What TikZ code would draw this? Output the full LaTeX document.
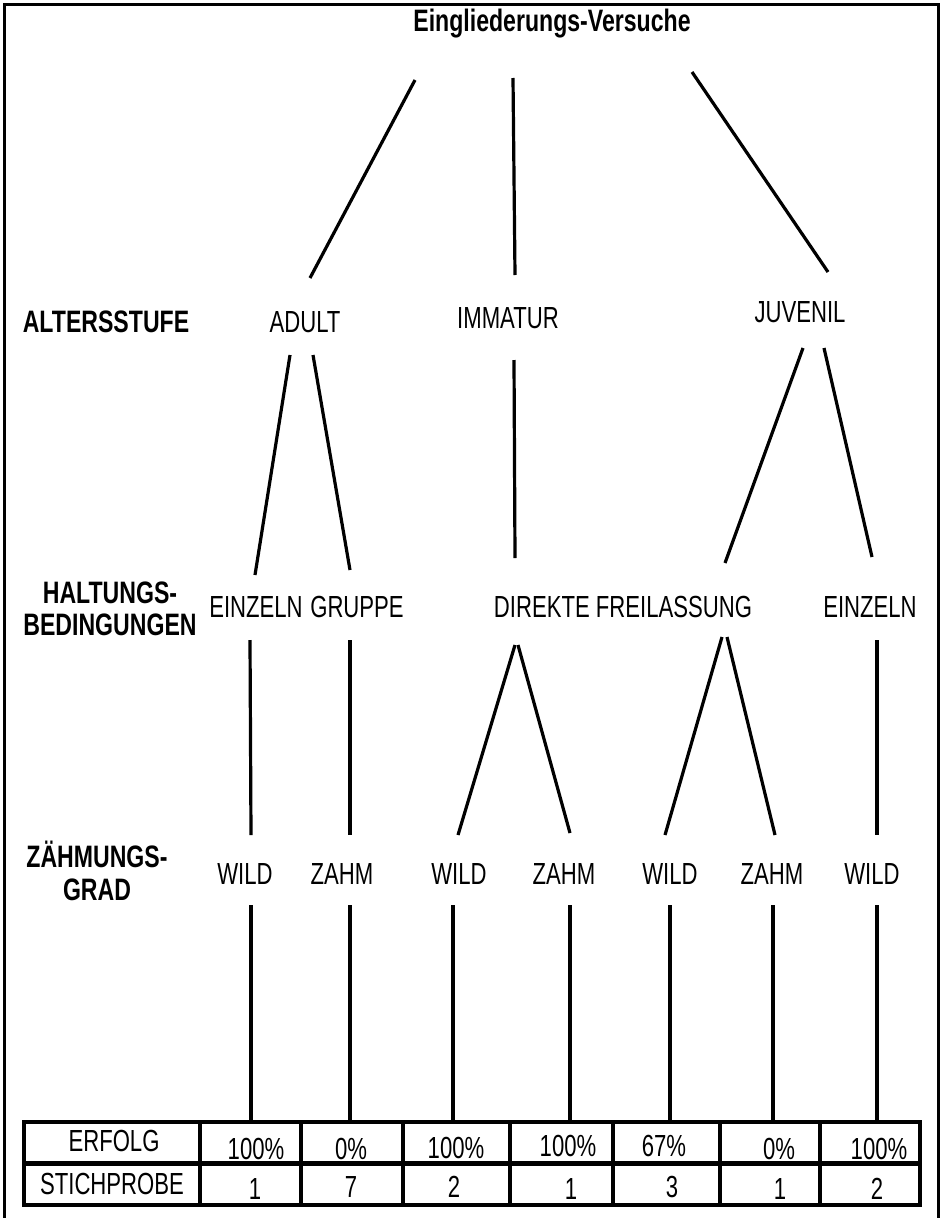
\documentclass[tikz,border=0pt]{standalone}
\usepackage{fontspec}
\setmainfont{Liberation Sans}[FakeStretch=0.725, BoldFeatures={FakeStretch=0.745}]
\begin{document}
\begin{tikzpicture}[x=1pt,y=-1pt,
  lbl/.style={font=\fontsize{30.5}{33}\selectfont, inner sep=0pt, align=center},
  head/.style={font=\fontsize{31}{32.5}\selectfont\bfseries, inner sep=0pt, align=center},
  link/.style={line width=3.2pt},
  cell/.style={draw, line width=3.2pt, minimum height=42pt, inner sep=0pt},
  frame/.style={line width=3pt}]
\useasboundingbox (0,0) rectangle (945,1218);

% outer frame
\draw[frame] (4,1220) -- (4,4) -- (938,4) -- (938,1220);

% title and level headings
\node[head] (title) at (552,24) {Eingliederungs-Versuche};
\node[head] (h1) at (106,322) {ALTERSSTUFE};
\node[head] (h2) at (110,609) {HALTUNGS-\\BEDINGUNGEN};
\node[head] (h3) at (97,871) {ZÄHMUNGS-\\GRAD};

% age classes
\node[lbl] (adult) at (305,322) {ADULT};
\node[lbl] (immatur) at (508,318) {IMMATUR};
\node[lbl] (juvenil) at (800,312) {JUVENIL};

% keeping conditions
\node[lbl] (ein1) at (256,607) {EINZELN};
\node[lbl] (grp) at (357,607) {GRUPPE};
\node[lbl] (dfr) at (623,607) {DIREKTE FREILASSUNG};
\node[lbl] (ein2) at (870,607) {EINZELN};

% taming degree
\node[lbl] (w1) at (245,874) {WILD};
\node[lbl] (z1) at (342,874) {ZAHM};
\node[lbl] (w2) at (459,874) {WILD};
\node[lbl] (z2) at (564,874) {ZAHM};
\node[lbl] (w3) at (670,874) {WILD};
\node[lbl] (z3) at (772,874) {ZAHM};
\node[lbl] (w4) at (872,874) {WILD};

% branch end points
\coordinate (t1) at (415,80);  \coordinate (a0) at (310,278);
\coordinate (t2) at (513,78);  \coordinate (i0) at (515,275);
\coordinate (t3) at (692,72);  \coordinate (j0) at (828,272);

\coordinate (a1) at (290,355); \coordinate (e1t) at (255,575);
\coordinate (a2) at (313,355); \coordinate (gt) at (350,570);
\coordinate (i1) at (514,360); \coordinate (dt) at (515,558);
\coordinate (j1) at (803,348); \coordinate (ft) at (725,563);
\coordinate (j2) at (824,348); \coordinate (e2t) at (872,557);

\coordinate (e1b) at (250,640); \coordinate (w1t) at (251,835);
\coordinate (gb) at (350,640);  \coordinate (z1t) at (350,835);
\coordinate (d1) at (515,645);  \coordinate (w2t) at (458,835);
\coordinate (d2) at (518,645);  \coordinate (z2t) at (570,833);
\coordinate (f1) at (722,637);  \coordinate (w3t) at (665,835);
\coordinate (f2) at (727,637);  \coordinate (z3t) at (775,835);
\coordinate (e2b) at (877,640); \coordinate (w4t) at (877,835);

\coordinate (w1b) at (251,905); \coordinate (z1b) at (350,905);
\coordinate (w2b) at (453,905); \coordinate (z2b) at (570,905);
\coordinate (w3b) at (670,905); \coordinate (z3b) at (773,905);
\coordinate (w4b) at (877,905);

\draw[link] (t1) -- (a0);
\draw[link] (t2) -- (i0);
\draw[link] (t3) -- (j0);
\draw[link] (a1) -- (e1t);
\draw[link] (a2) -- (gt);
\draw[link] (i1) -- (dt);
\draw[link] (j1) -- (ft);
\draw[link] (j2) -- (e2t);
\draw[link] (e1b) -- (w1t);
\draw[link] (gb) -- (z1t);
\draw[link] (d1) -- (w2t);
\draw[link] (d2) -- (z2t);
\draw[link] (f1) -- (w3t);
\draw[link] (f2) -- (z3t);
\draw[link] (e2b) -- (w4t);

% result table
\node[cell, minimum width=176pt] (l1) at (112,1143) {};
\node[cell, minimum width=176pt] (l2) at (112,1184) {};
\node[cell, minimum width=101pt] (c1a) at (250.5,1143) {};
\node[cell, minimum width=101pt] (c1b) at (250.5,1184) {};
\node[cell, minimum width=102pt] (c2a) at (352,1143) {};
\node[cell, minimum width=102pt] (c2b) at (352,1184) {};
\node[cell, minimum width=107pt] (c3a) at (456.5,1143) {};
\node[cell, minimum width=107pt] (c3b) at (456.5,1184) {};
\node[cell, minimum width=103pt] (c4a) at (561.5,1143) {};
\node[cell, minimum width=103pt] (c4b) at (561.5,1184) {};
\node[cell, minimum width=107pt] (c5a) at (666.5,1143) {};
\node[cell, minimum width=107pt] (c5b) at (666.5,1184) {};
\node[cell, minimum width=100pt] (c6a) at (770,1143) {};
\node[cell, minimum width=100pt] (c6b) at (770,1184) {};
\node[cell, minimum width=100pt] (c7a) at (870,1143) {};
\node[cell, minimum width=100pt] (c7b) at (870,1184) {};

\node[lbl] at (114,1141) {ERFOLG};
\node[lbl] at (112,1184) {STICHPROBE};
\node[lbl] at (256,1149) {100\%};
\node[lbl] at (351,1149) {0\%};
\node[lbl] at (456,1148) {100\%};
\node[lbl] at (568,1146) {100\%};
\node[lbl] at (664,1146) {67\%};
\node[lbl] at (779,1149) {0\%};
\node[lbl] at (879,1149) {100\%};
\node[lbl] at (255,1189) {1};
\node[lbl] at (351,1187) {7};
\node[lbl] at (454,1187) {2};
\node[lbl] at (571,1189) {1};
\node[lbl] at (672,1187) {3};
\node[lbl] at (780,1189) {1};
\node[lbl] at (877,1189) {2};

% drops from the taming degree to the table
\draw[link] (w1b) -- (w1b |- c1a.north);
\draw[link] (z1b) -- (z1b |- c2a.north);
\draw[link] (w2b) -- (w2b |- c3a.north);
\draw[link] (z2b) -- (z2b |- c4a.north);
\draw[link] (w3b) -- (w3b |- c5a.north);
\draw[link] (z3b) -- (z3b |- c6a.north);
\draw[link] (w4b) -- (w4b |- c7a.north);
\end{tikzpicture}
\end{document}
